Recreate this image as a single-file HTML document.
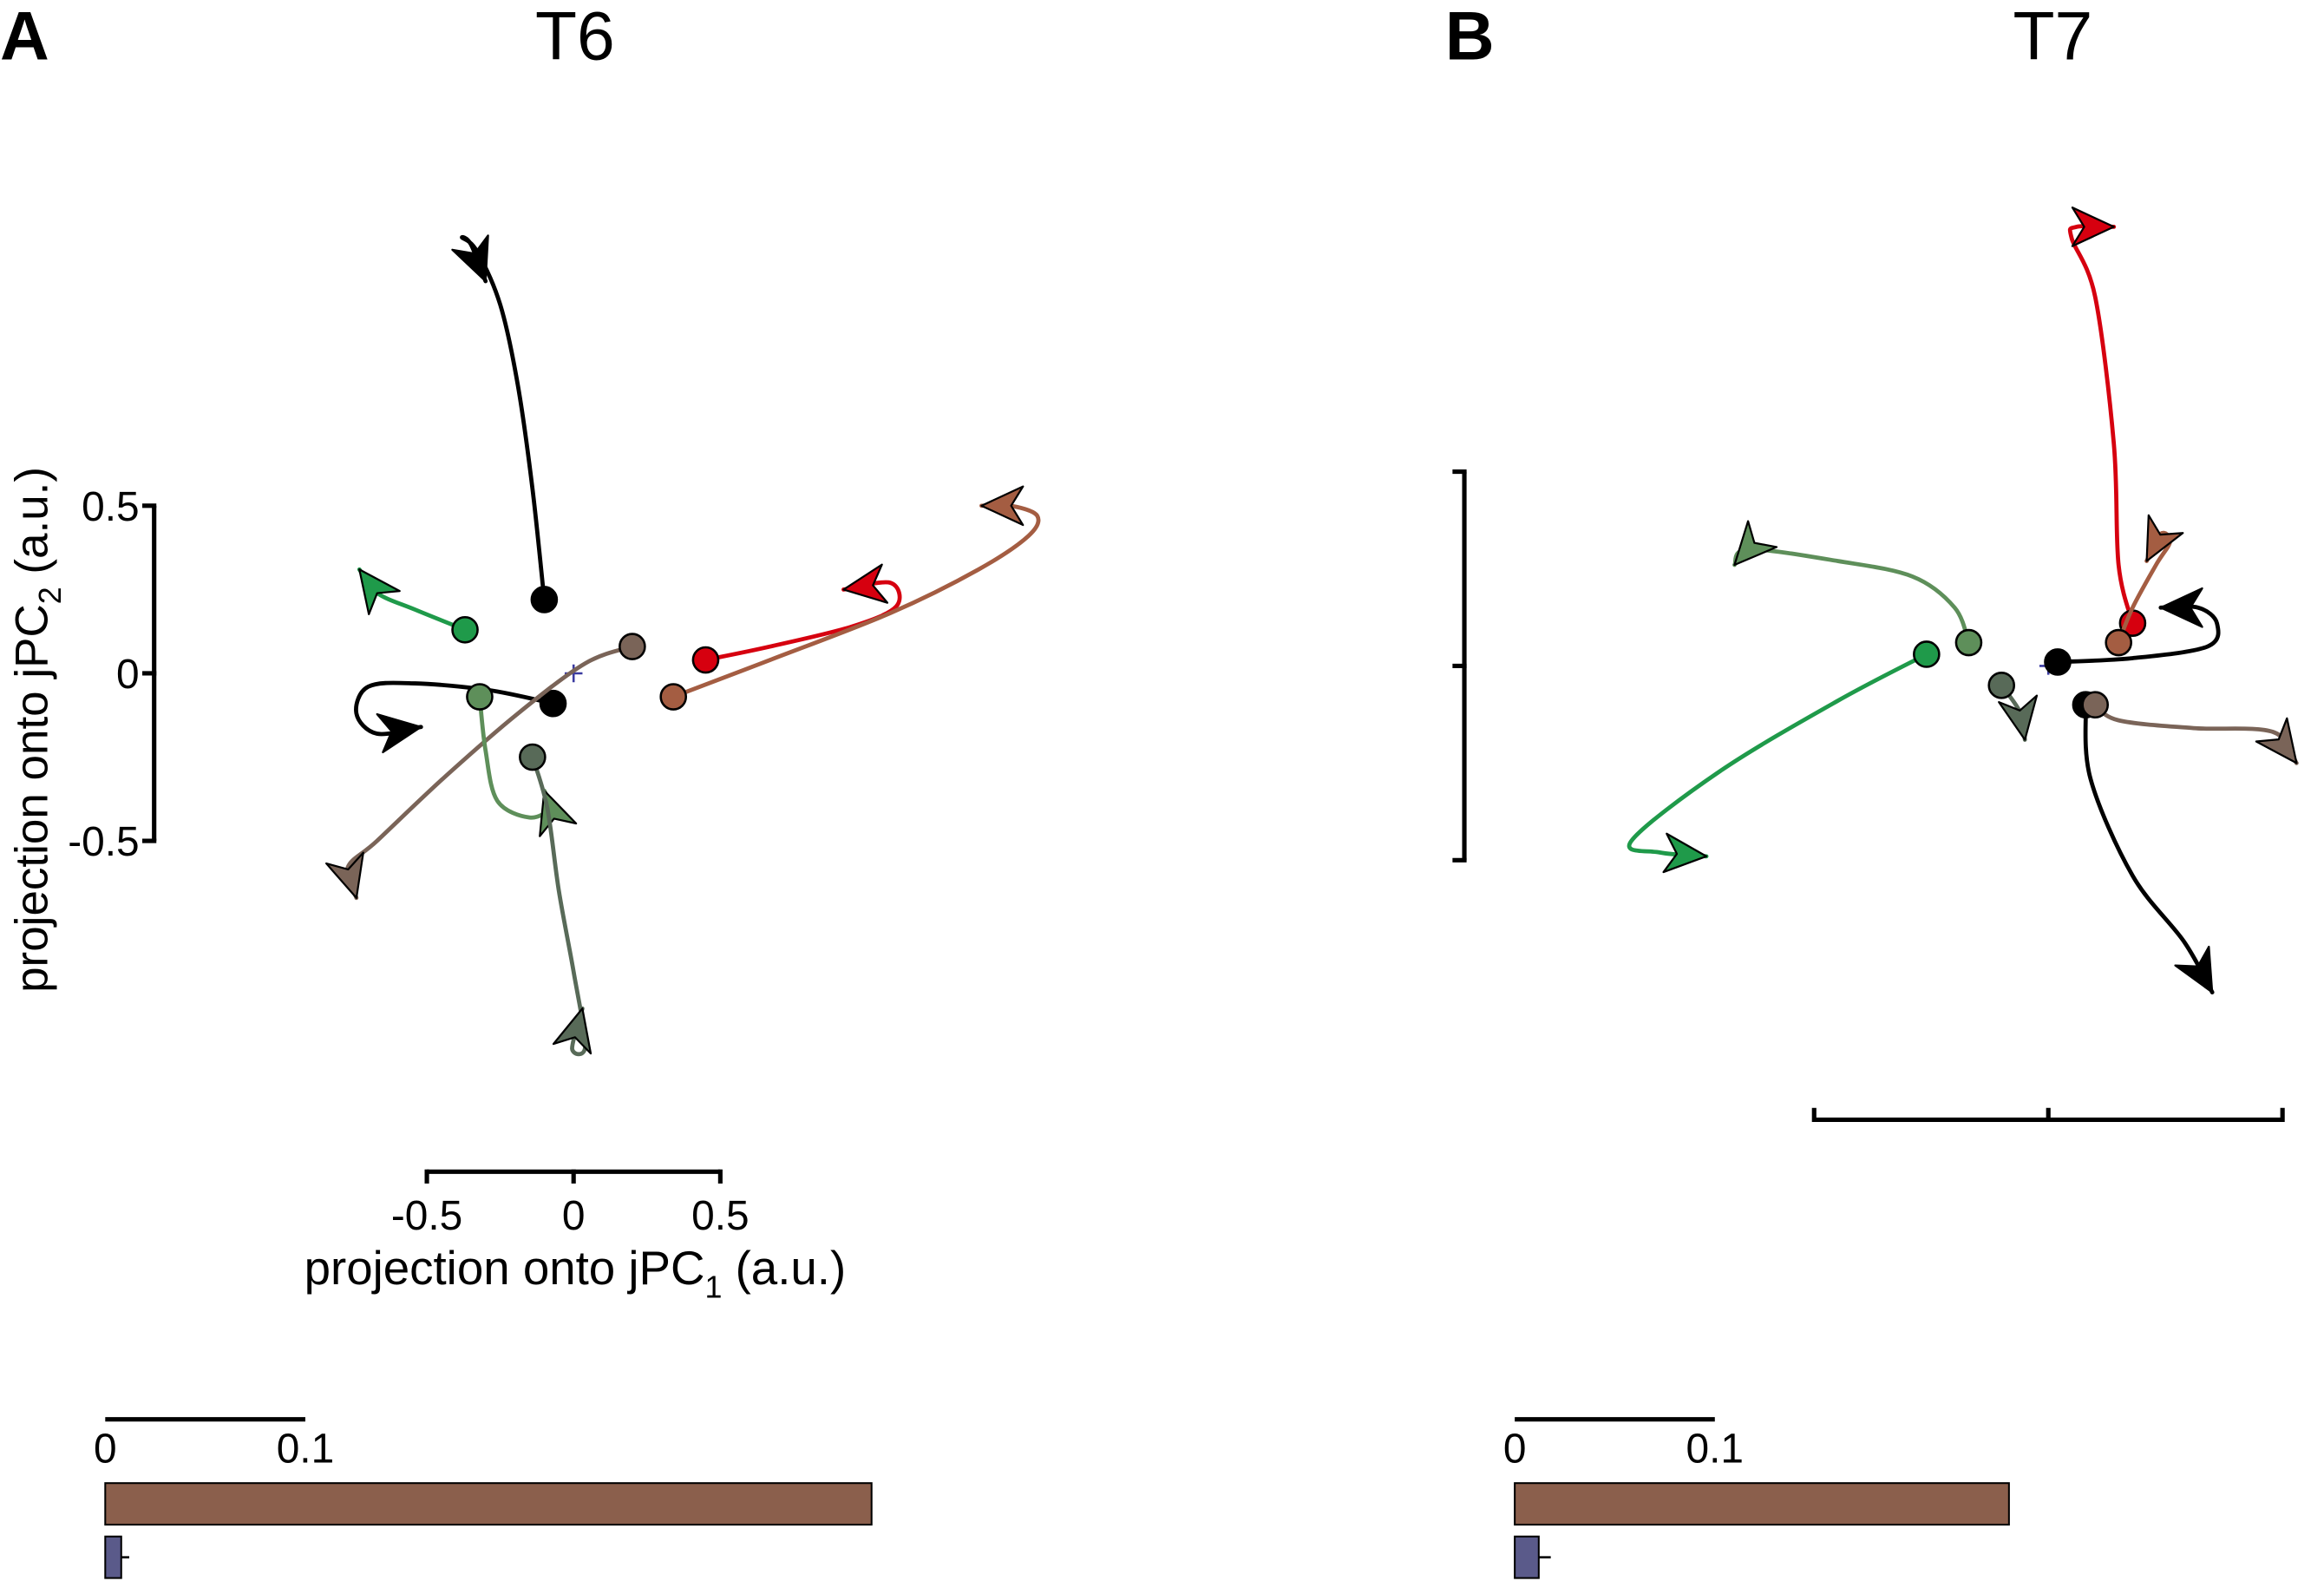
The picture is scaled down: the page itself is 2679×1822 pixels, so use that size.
<!DOCTYPE html>
<html><head><meta charset="utf-8"><style>
html,body{margin:0;padding:0;background:#fff}
svg{display:block}
text{font-family:"Liberation Sans",Arial,sans-serif;fill:#000}
</style></head><body>
<svg id="fig" width="2679" height="1822" viewBox="0 0 1568 1066" preserveAspectRatio="none" xmlns="http://www.w3.org/2000/svg">
<g id="static">
<text x="0" y="40" font-size="46" font-weight="bold">A</text>
<text x="388" y="40" font-size="46" text-anchor="middle">T6</text>
<text x="975" y="40" font-size="46" font-weight="bold">B</text>
<text x="1385" y="40" font-size="46" text-anchor="middle">T7</text>
<text transform="translate(32,492) rotate(-90)" font-size="31" text-anchor="middle">projection onto jPC<tspan font-size="21" dy="9">2</tspan><tspan dy="-9"> (a.u.)</tspan></text>
<text x="388" y="866" font-size="32" text-anchor="middle">projection onto jPC<tspan font-size="21" dy="9">1</tspan><tspan dy="-9"> (a.u.)</tspan></text>
</g>
<g id="plots"></g>
</svg>
<script>
// ---- data ----
const seriesColors = ['#000000','#1f9a4a','#000000','#7a6458','#5e8f5a','#586a58','#d6000f','#a45d42'];
const t6X = [
 [-0.10,-0.14,-0.19,-0.25,-0.33,-0.38,-0.35,-0.30],
 [-0.37,-0.54,-0.67,-0.73],
 [-0.07,-0.29,-0.54,-0.70,-0.74,-0.67,-0.52],
 [0.20,0.04,-0.19,-0.44,-0.67,-0.77,-0.74],
 [-0.32,-0.30,-0.26,-0.15,-0.08,-0.10],
 [-0.14,-0.09,-0.05,0.0,0.04,-0.005,0.03],
 [0.45,0.67,0.95,1.10,1.08,0.92],
 [0.34,0.67,1.08,1.38,1.55,1.58,1.49,1.39]
];
const t6Y = [
 [0.22,0.55,0.86,1.10,1.26,1.30,1.28,1.17],
 [0.13,0.19,0.24,0.31],
 [-0.09,-0.05,-0.03,-0.04,-0.12,-0.18,-0.16],
 [0.08,0.03,-0.12,-0.31,-0.50,-0.58,-0.67],
 [-0.07,-0.23,-0.38,-0.43,-0.40,-0.35],
 [-0.25,-0.40,-0.65,-0.89,-1.11,-1.12,-1.00],
 [0.04,0.08,0.14,0.20,0.27,0.25],
 [-0.07,0.04,0.18,0.31,0.41,0.47,0.50,0.50]
];
const t7Colors = ['#d6000f','#a45d42','#000000','#5e8f5a','#1f9a4a','#586a58','#000000','#7a6458'];
const t7X = [
 [0.18,0.15,0.14,0.10,0.05,0.06,0.14],
 [0.15,0.18,0.23,0.26,0.24,0.21],
 [0.02,0.18,0.34,0.36,0.32,0.24],
 [-0.17,-0.20,-0.29,-0.45,-0.64,-0.67],
 [-0.26,-0.45,-0.70,-0.89,-0.83,-0.73],
 [-0.10,-0.06,-0.05],
 [0.08,0.09,0.18,0.29,0.35],
 [0.10,0.15,0.31,0.48,0.53]
];
const t7Y = [
 [0.11,0.26,0.57,0.95,1.10,1.13,1.13],
 [0.06,0.15,0.26,0.32,0.34,0.27],
 [0.01,0.02,0.05,0.11,0.15,0.15],
 [0.06,0.15,0.23,0.27,0.30,0.26],
 [0.03,-0.09,-0.27,-0.45,-0.48,-0.49],
 [-0.05,-0.12,-0.19],
 [-0.10,-0.29,-0.54,-0.71,-0.84],
 [-0.10,-0.14,-0.16,-0.17,-0.25]
];
const axisTicks = [-0.5, 0, 0.5];
const axisTickLabels = ['-0.5','0','0.5'];
const barLabels = ['rotational','symmetric'];
const t6BarValues = [0.383, 0.008];
const t6BarErrors = [0, 0.004];
const t7BarValues = [0.247, 0.012];
const t7BarErrors = [0, 0.006];
const barScaleTicks = [0, 0.1];
const barScaleLabels = ['0','0.1'];

// ---- drawing ----
const NS='http://www.w3.org/2000/svg';
const root=document.getElementById('plots');
function mk(tag,attrs,parent){const e=document.createElementNS(NS,tag);for(const k in attrs)e.setAttribute(k,attrs[k]);(parent||root).appendChild(e);return e;}
function smooth(pts){
 let d=`M${pts[0][0]},${pts[0][1]}`;
 for(let i=0;i<pts.length-1;i++){
  const p0=pts[Math.max(0,i-1)],p1=pts[i],p2=pts[i+1],p3=pts[Math.min(pts.length-1,i+2)];
  const c1=[p1[0]+(p2[0]-p0[0])/6,p1[1]+(p2[1]-p0[1])/6];
  const c2=[p2[0]-(p3[0]-p1[0])/6,p2[1]-(p3[1]-p1[1])/6];
  d+=` C${c1[0]},${c1[1]} ${c2[0]},${c2[1]} ${p2[0]},${p2[1]}`;
 }
 return d;
}

const panels=[
 {name:'t6',X:t6X,Y:t6Y,colors:seriesColors,ox:387,oy:454,sx:198,sy:226,labels:true,
  yAxisX:104,xAxisY:790,xTickDir:1,barX0:71,barVals:t6BarValues,barErr:t6BarErrors},
 {name:'t7',X:t7X,Y:t7Y,colors:t7Colors,ox:1382,oy:449,sx:316,sy:262,labels:false,
  yAxisX:988,xAxisY:755,xTickDir:-1,barX0:1022,barVals:t7BarValues,barErr:t7BarErrors}
];
const barScale=1350;

panels.forEach(p=>{
 const g=mk('g',{});
 
 
 const fx=v=>p.ox+v*p.sx, fy=v=>p.oy-v*p.sy;
 const ya=mk('g',{},g);
 
 
 mk('line',{x1:p.yAxisX,x2:p.yAxisX,y1:fy(0.5),y2:fy(-0.5),stroke:'#000','stroke-width':3},ya);
 axisTicks.forEach((t,i)=>{
  mk('line',{x1:p.yAxisX-8,x2:p.yAxisX+1.5,y1:fy(t),y2:fy(t),stroke:'#000','stroke-width':3},ya);
  if(p.labels){const tx=mk('text',{x:p.yAxisX-10,y:fy(t)+10,'font-size':28,'text-anchor':'end'},ya);tx.textContent=axisTickLabels[i];}
 });
 const xa=mk('g',{},g);
 
 
 mk('line',{x1:fx(-0.5),x2:fx(0.5),y1:p.xAxisY,y2:p.xAxisY,stroke:'#000','stroke-width':3},xa);
 axisTicks.forEach((t,i)=>{
  mk('line',{x1:fx(t),x2:fx(t),y1:p.xAxisY-1.5*p.xTickDir,y2:p.xAxisY+8*p.xTickDir,stroke:'#000','stroke-width':3},xa);
  if(p.labels){const tx=mk('text',{x:fx(t),y:p.xAxisY+39,'font-size':28,'text-anchor':'middle'},xa);tx.textContent=axisTickLabels[i];}
 });
 const oc=mk('path',{d:`M${fx(0)-6},${fy(0)}h12M${fx(0)},${fy(0)-6}v12`,stroke:'#3a3aa0','stroke-width':1.5,fill:'none'},g);
 
 
 p.X.forEach((xs,i)=>{
  const ys=p.Y[i], c=p.colors[i];
  const tg=mk('g',{},g);
  
  
  const pts=xs.map((x,k)=>[fx(x),fy(ys[k])]);
  mk('path',{d:smooth(pts),fill:'none',stroke:c,'stroke-width':2.8,'stroke-linejoin':'round','stroke-linecap':'round'},tg);
  const a=pts[pts.length-1], b=pts[pts.length-2];
  const ang=Math.atan2(a[1]-b[1],a[0]-b[0])*180/Math.PI;
  const ah=mk('path',{d:'M0,0 L-28,-13 L-20,0 L-28,13 Z',fill:c,stroke:'#000','stroke-width':1.3,'stroke-linejoin':'round',transform:`translate(${a[0]},${a[1]}) rotate(${ang})`},tg);
  
  
  const d=mk('circle',{cx:pts[0][0],cy:pts[0][1],r:8.5,fill:c,stroke:'#000','stroke-width':1.5},tg);
  
  
 });
 const bg=mk('g',{},g);
 
 
 const bx=v=>p.barX0+v*barScale;
 mk('line',{x1:bx(barScaleTicks[0]),x2:bx(barScaleTicks[1]),y1:957,y2:957,stroke:'#000','stroke-width':3},bg);
 barScaleTicks.forEach((t,i)=>{const tx=mk('text',{x:bx(t),y:986,'font-size':28,'text-anchor':'middle'},bg);tx.textContent=barScaleLabels[i];});
 const barCols=['#8b5f4c','#5a5a8a'], barY=[1000,1036], barH=[28,28];
 p.barVals.forEach((v,i)=>{
  const r=mk('rect',{x:bx(0),y:barY[i],width:bx(v)-bx(0),height:barH[i],fill:barCols[i],stroke:'#000','stroke-width':1.2},bg);
  
  
  if(p.barErr[i]>0){
   mk('line',{x1:bx(v),x2:bx(v+p.barErr[i]),y1:barY[i]+barH[i]/2,y2:barY[i]+barH[i]/2,stroke:'#000','stroke-width':1.5},bg);
  }
 });
});
</script>
</body></html>
